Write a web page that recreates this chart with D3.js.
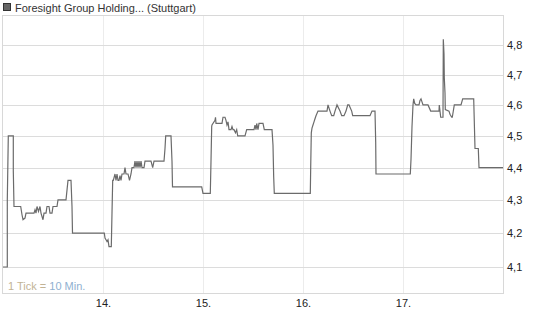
<!DOCTYPE html>
<html><head><meta charset="utf-8">
<script src="https://cdn.jsdelivr.net/npm/d3@7"></script>
<style>
html,body{margin:0;padding:0;background:#fff;}
svg{display:block;font-family:"Liberation Sans",Arial,sans-serif;}
</style></head>
<body><svg id="c" width="545" height="327"></svg>
<script>
const title = "Foresight Group Holding... (Stuttgart)";
const dayLabels = ["14.", "15.", "16.", "17."];
const dayTicks = [1, 2, 3, 4];
const priceTicks = [4.1, 4.2, 4.3, 4.4, 4.5, 4.6, 4.7, 4.8];
// time in days since start of the 13th
const times = [0, 0.043, 0.043, 0.053, 0.103, 0.103, 0.11, 0.177, 0.19, 0.20, 0.22, 0.23, 0.31, 0.32, 0.33, 0.34, 0.355, 0.37, 0.38, 0.40, 0.41, 0.43, 0.44, 0.46, 0.47, 0.49, 0.50, 0.54, 0.55, 0.63, 0.64, 0.65, 0.68, 0.69, 0.695,
  1.013, 1.02, 1.03, 1.04, 1.05, 1.06, 1.083, 1.09, 1.097, 1.103, 1.12, 1.13, 1.14, 1.15, 1.16, 1.17, 1.18, 1.19, 1.21, 1.22, 1.23, 1.25, 1.265, 1.28, 1.29, 1.31, 1.32, 1.33, 1.34, 1.35, 1.36, 1.37, 1.38, 1.39, 1.41, 1.42, 1.48, 1.497, 1.51, 1.61, 1.62, 1.627, 1.68, 1.69, 1.695, 1.987, 2.00, 2.073,
  2.08, 2.087, 2.09, 2.12, 2.125, 2.13, 2.19, 2.20, 2.22, 2.23, 2.24, 2.25, 2.26, 2.28, 2.29, 2.30, 2.31, 2.325, 2.337, 2.347, 2.42, 2.437, 2.51, 2.52, 2.53, 2.537, 2.55, 2.56, 2.60, 2.613, 2.69, 2.70, 2.707, 2.713, 3.073,
  3.077, 3.083, 3.09, 3.10, 3.11, 3.12, 3.13, 3.15, 3.24, 3.25, 3.27, 3.287, 3.307, 3.32, 3.34, 3.37, 3.387, 3.41, 3.43, 3.447, 3.46, 3.487, 3.497, 3.67, 3.69, 3.72, 3.727, 3.73, 4.073,
  4.08, 4.09, 4.10, 4.107, 4.117, 4.13, 4.16, 4.17, 4.18, 4.19, 4.20, 4.25, 4.277, 4.313, 4.36, 4.363, 4.377, 4.39, 4.40, 4.403, 4.41, 4.413, 4.42, 4.423, 4.46, 4.47, 4.487, 4.493, 4.513, 4.58, 4.597, 4.707, 4.72, 4.753, 4.76, 5.00];
const prices = [4.10, 4.10, 4.30, 4.50, 4.50, 4.39, 4.28, 4.28, 4.255, 4.24, 4.245, 4.26, 4.26, 4.27, 4.26, 4.28, 4.265, 4.28, 4.26, 4.24, 4.26, 4.26, 4.28, 4.28, 4.26, 4.26, 4.28, 4.28, 4.30, 4.30, 4.33, 4.36, 4.36, 4.28, 4.20,
  4.20, 4.185, 4.18, 4.175, 4.18, 4.16, 4.16, 4.26, 4.36, 4.36, 4.38, 4.36, 4.38, 4.36, 4.36, 4.375, 4.36, 4.38, 4.38, 4.40, 4.38, 4.38, 4.36, 4.38, 4.40, 4.40, 4.42, 4.40, 4.42, 4.40, 4.42, 4.40, 4.42, 4.40, 4.40, 4.42, 4.42, 4.40, 4.42, 4.42, 4.46, 4.50, 4.50, 4.42, 4.34, 4.34, 4.32, 4.32,
  4.42, 4.53, 4.535, 4.55, 4.56, 4.54, 4.54, 4.56, 4.56, 4.55, 4.535, 4.545, 4.52, 4.52, 4.53, 4.52, 4.52, 4.51, 4.52, 4.50, 4.50, 4.52, 4.52, 4.535, 4.52, 4.54, 4.52, 4.54, 4.54, 4.52, 4.52, 4.47, 4.37, 4.32, 4.32,
  4.40, 4.51, 4.525, 4.535, 4.545, 4.555, 4.565, 4.58, 4.58, 4.60, 4.58, 4.565, 4.565, 4.58, 4.60, 4.58, 4.565, 4.565, 4.58, 4.60, 4.60, 4.58, 4.565, 4.565, 4.58, 4.58, 4.48, 4.38, 4.38,
  4.425, 4.53, 4.60, 4.62, 4.605, 4.60, 4.60, 4.615, 4.62, 4.61, 4.60, 4.60, 4.58, 4.58, 4.58, 4.60, 4.56, 4.56, 4.56, 4.82, 4.77, 4.69, 4.64, 4.585, 4.58, 4.57, 4.56, 4.56, 4.60, 4.60, 4.62, 4.62, 4.46, 4.46, 4.40, 4.40];

const svg = d3.select("#c");
const L = 3, R = 503, T = 16, B = 293;
const x = d3.scaleLinear().domain([0, 5]).range([L, R]);
const y = d3.scaleLog().domain([4.025, 4.9]).range([B, T]);

// vertical grid
svg.append("g").selectAll("line").data(dayTicks).join("line")
  .attr("x1", d => Math.round(x(d)) + 0.5).attr("x2", d => Math.round(x(d)) + 0.5)
  .attr("y1", T).attr("y2", B).attr("stroke", "#ececec").attr("stroke-width", 1);
// horizontal grid
svg.append("g").selectAll("line").data(priceTicks).join("line")
  .attr("x1", L).attr("x2", R)
  .attr("y1", d => Math.round(y(d)) + 0.5).attr("y2", d => Math.round(y(d)) + 0.5)
  .attr("stroke", "#dcdcdc").attr("stroke-width", 1);
// frame
svg.append("rect").attr("x", L - 0.5).attr("y", T - 0.5).attr("width", R - L + 1).attr("height", B - T + 1)
  .attr("fill", "none").attr("stroke", "#d8d8d8");

// line
const pts = times.map((t, i) => [t, prices[i]]);
svg.append("path").datum(pts)
  .attr("d", d3.line().x(d => x(d[0])).y(d => y(d[1])))
  .attr("fill", "none").attr("stroke", "#6b6b6b").attr("stroke-width", 1.2);

// axes
const xAxis = d3.axisBottom(x).tickValues(dayTicks).tickFormat((d, i) => dayLabels[i]).tickSize(0).tickPadding(6);
svg.append("g").attr("transform", `translate(0,${B})`).call(xAxis)
  .call(g => g.select(".domain").remove())
  .selectAll("text").attr("font-size", 11).attr("fill", "#222").attr("font-family", "Liberation Sans, Arial, sans-serif");
const yAxis = d3.axisRight(y).tickValues(priceTicks).tickFormat(d => d3.format(".1f")(d).replace(".", ",")).tickSize(0).tickPadding(4);
svg.append("g").attr("transform", `translate(${R},0)`).call(yAxis)
  .call(g => g.select(".domain").remove())
  .selectAll("text").attr("font-size", 11).attr("fill", "#222").attr("font-family", "Liberation Sans, Arial, sans-serif");

// title
svg.append("rect").attr("x", 3.5).attr("y", 3.5).attr("width", 7).attr("height", 7)
  .attr("fill", "#666").attr("stroke", "#333");
svg.append("text").attr("x", 15).attr("y", 12).attr("font-size", 11).attr("fill", "#333").text(title);

// tick note
const note = svg.append("text").attr("x", 8).attr("y", 290).attr("font-size", 11);
note.append("tspan").attr("fill", "#c2b395").text("1 Tick = ");
note.append("tspan").attr("fill", "#8fb0d0").text("10 Min.");
</script></body></html>
